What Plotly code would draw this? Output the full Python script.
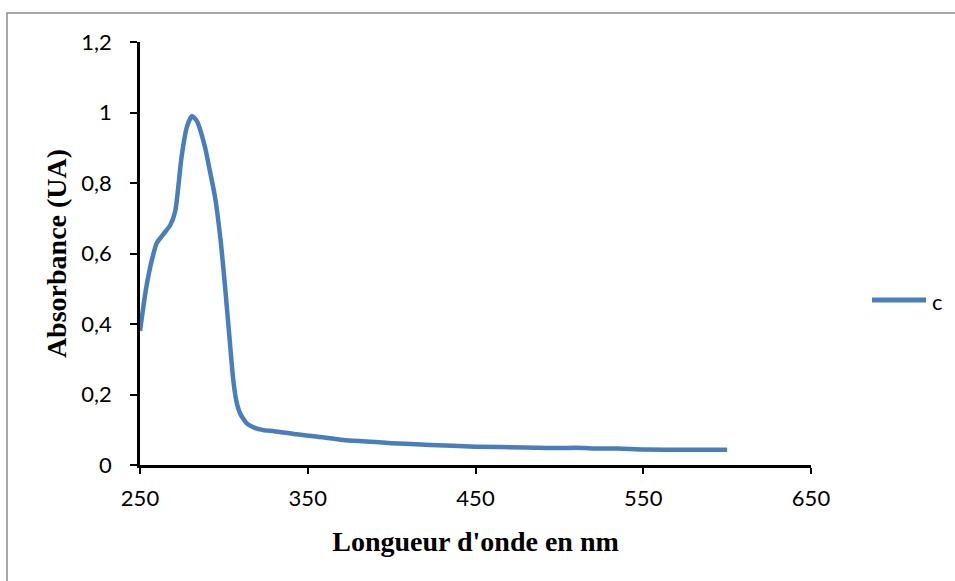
import plotly.graph_objects as go

# Absorption spectrum, series "c"
wavelength_nm = [250, 253.6, 257, 260, 264, 268, 271, 274.8, 278, 281, 284, 288.7,
                 291, 294.7, 298, 300.7, 303, 305.6, 307.5, 309.6, 313.6, 318,
                 323.5, 330, 343.4, 355, 371.2, 385, 400, 422.9, 450, 480, 500,
                 510, 520, 535, 550, 575, 600]
absorbance = [0.38, 0.50, 0.58, 0.63, 0.655, 0.68, 0.72, 0.875, 0.96, 0.99, 0.975, 0.903,
              0.85, 0.761, 0.64, 0.506, 0.38, 0.241, 0.18, 0.147, 0.118, 0.106,
              0.099, 0.096, 0.087, 0.081, 0.071, 0.067, 0.062, 0.057, 0.052, 0.050, 0.048,
              0.049, 0.047, 0.047, 0.044, 0.043, 0.043]

x_ticks = [250, 350, 450, 550, 650]
y_ticks = [0, 0.2, 0.4, 0.6, 0.8, 1.0, 1.2]
y_tick_text = ["0", "0,2", "0,4", "0,6", "0,8", "1", "1,2"]
series_name = "c"

LINE_COLOR = "#4A7EBB"
TICK_FONT = dict(family="Lato, Open Sans, sans-serif", size=22, color="#000000")
TITLE_FONT = dict(family="Liberation Serif, Times New Roman, serif", size=28, color="#000000")

# plot area in pixels: x 140..811, y 42..465
PX_W, PX_H = 671, 423


def px_x(px):
    return (px - 140) / PX_W


def px_y(py):
    return (465 - py) / PX_H


fig = go.Figure()
fig.add_trace(go.Scatter(
    x=wavelength_nm, y=absorbance, mode="lines", name=series_name,
    line=dict(color=LINE_COLOR, width=4.5, shape="spline", smoothing=0.6),
    showlegend=False,
))

fig.update_layout(
    width=955, height=581,
    margin=dict(l=140, r=144, t=42, b=116),
    paper_bgcolor="white", plot_bgcolor="white",
    xaxis=dict(
        range=[250, 650], tickvals=x_ticks, showgrid=False, zeroline=False,
        showline=True, linecolor="#000000", linewidth=2.5,
        ticks="outside", ticklen=6, tickwidth=2, tickcolor="#000000",
        tickfont=TICK_FONT, ticklabelstandoff=6,
        title=dict(text="<b>Longueur d'onde en nm</b>", font=TITLE_FONT, standoff=22),
    ),
    yaxis=dict(
        range=[0, 1.2], tickvals=y_ticks, ticktext=y_tick_text, showgrid=False,
        zeroline=False, showline=True, linecolor="#000000", linewidth=2.5,
        ticks="outside", ticklen=7, tickwidth=2, tickcolor="#000000",
        tickfont=TICK_FONT, ticklabelstandoff=14,
        title=dict(text="<b>Absorbance (UA)</b>", font=TITLE_FONT, standoff=7),
    ),
    shapes=[
        # outer chart border
        dict(type="rect", xref="paper", yref="paper",
             x0=px_x(7), x1=px_x(962), y0=px_y(590), y1=px_y(13),
             line=dict(color="#8C8C8C", width=1.5), fillcolor="rgba(0,0,0,0)",
             layer="below"),
        # legend swatch
        dict(type="line", xref="paper", yref="paper",
             x0=px_x(872), x1=px_x(926), y0=px_y(300), y1=px_y(300),
             line=dict(color=LINE_COLOR, width=5)),
    ],
    annotations=[
        dict(text=series_name, xref="paper", yref="paper", x=px_x(930), y=px_y(301),
             xanchor="left", yanchor="middle", showarrow=False, font=TICK_FONT),
    ],
)

fig.write_html("out.html")
